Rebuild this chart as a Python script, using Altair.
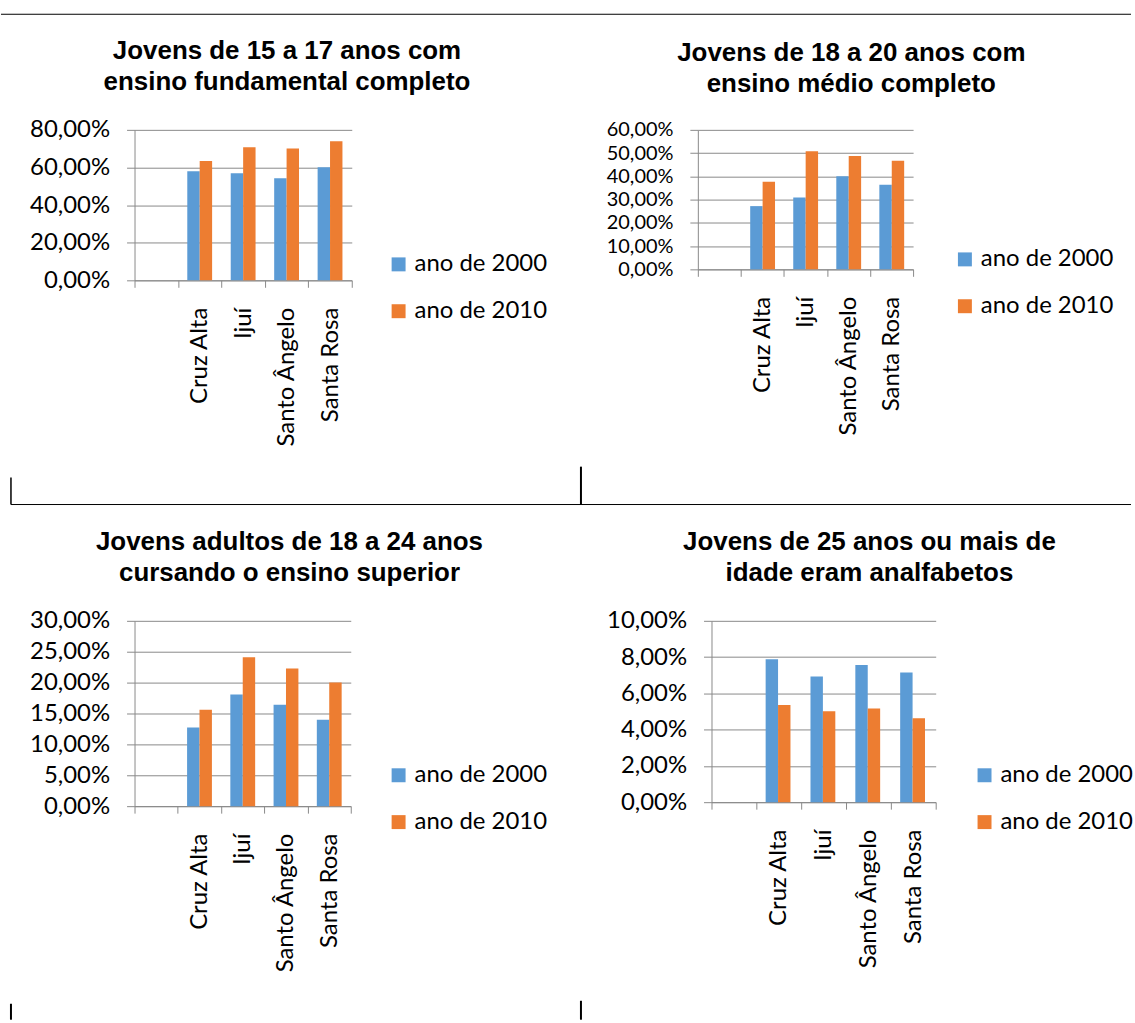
import altair as alt
import pandas as pd

# ---------------- data ----------------
cidades = ["Cruz Alta", "Ijuí", "Santo Ângelo", "Santa Rosa"]
categorias_eixo = [" ", "Cruz Alta", "Ijuí", "Santo Ângelo", "Santa Rosa"]
series = ["ano de 2000", "ano de 2010"]

fund_2000 = [0.580, 0.569, 0.543, 0.601]
fund_2010 = [0.634, 0.708, 0.701, 0.740]

medio_2000 = [0.272, 0.309, 0.400, 0.364]
medio_2010 = [0.377, 0.508, 0.487, 0.467]

sup_2000 = [0.1274, 0.1806, 0.1640, 0.1398]
sup_2010 = [0.1560, 0.2410, 0.2230, 0.2000]

analf_2000 = [0.0788, 0.0693, 0.0757, 0.0715]
analf_2010 = [0.0536, 0.0501, 0.0516, 0.0463]

titulo_fund = ["Jovens de 15 a 17 anos com", "ensino fundamental completo"]
titulo_medio = ["Jovens de 18 a 20 anos com", "ensino médio completo"]
titulo_sup = ["Jovens adultos de 18 a 24 anos", "cursando o ensino superior"]
titulo_analf = ["Jovens de 25 anos ou mais de", "idade eram analfabetos"]

ticks_fund = [0.0, 0.2, 0.4, 0.6, 0.8]
ticks_medio = [0.0, 0.1, 0.2, 0.3, 0.4, 0.5, 0.6]
ticks_sup = [0.0, 0.05, 0.10, 0.15, 0.20, 0.25, 0.30]
ticks_analf = [0.0, 0.02, 0.04, 0.06, 0.08, 0.10]

# ---------------- style ----------------
BLUE = "#5B9BD5"
ORANGE = "#ED7D31"
GRAY = "#8a8a8a"
FONT = "Lato"
TFONT = "Liberation Sans"
FS = 24


def panel(v2000, v2010, titulo, ticks, w, h, title_dx, leg_x, leg_y, yfs=FS):
    df = pd.DataFrame({
        "cidade": cidades + cidades,
        "serie": [series[0]] * len(cidades) + [series[1]] * len(cidades),
        "valor": list(v2000) + list(v2010),
    })
    return alt.Chart(df).mark_bar().encode(
        x=alt.X(
            "cidade:N",
            scale=alt.Scale(domain=categorias_eixo, paddingInner=0, paddingOuter=0),
            axis=alt.Axis(
                title=None, labelAngle=270, tickBand="extent", tickSize=7,
                labelPadding=20, domainColor=GRAY, tickColor=GRAY,
                labelFont=FONT, labelFontSize=FS, labelColor="black",
                grid=False, labelOverlap=False, labelLimit=300,
            ),
        ),
        xOffset=alt.XOffset(
            "serie:N",
            scale=alt.Scale(domain=series, paddingInner=0, paddingOuter=0.75),
        ),
        y=alt.Y(
            "valor:Q",
            scale=alt.Scale(domain=[ticks[0], ticks[-1]], nice=False),
            axis=alt.Axis(
                title=None, values=ticks,
                labelExpr="replace(format(datum.value, '.2%'), '.', ',')",
                tickSize=8, tickColor=GRAY, domainColor=GRAY, gridColor=GRAY,
                labelFont=FONT, labelFontSize=yfs, labelColor="black",
                labelPadding=17, labelOverlap=False, labelFlush=False,
            ),
        ),
        color=alt.Color(
            "serie:N",
            scale=alt.Scale(domain=series, range=[BLUE, ORANGE]),
            legend=alt.Legend(
                title=None, orient="none", legendX=leg_x, legendY=leg_y,
                symbolType="square", symbolSize=196, symbolStrokeWidth=0,
                labelFont=FONT, labelFontSize=FS, labelColor="black",
                rowPadding=23, labelOffset=4, padding=0,
            ),
        ),
    ).properties(
        width=w, height=h,
        title=alt.Title(
            text=titulo, font=TFONT, fontSize=26, fontWeight="bold",
            color="black", anchor="middle", frame="group", dx=title_dx,
            offset=23, lineHeight=31,
        ),
    )


tl = panel(fund_2000, fund_2010, titulo_fund, ticks_fund, 218, 151, 44, 253, 123)
tr = panel(medio_2000, medio_2010, titulo_medio, ticks_medio, 216, 140, 46, 256, 118, yfs=20)
bl = panel(sup_2000, sup_2010, titulo_sup, ticks_sup, 217, 186, 47, 253, 143)
br = panel(analf_2000, analf_2010, titulo_analf, ticks_analf, 225, 182, 46, 262, 143)

# ---------------- decorative table borders ----------------
S1 = (565.3 - 219) / 2          # spacing in the top row (TL, borders view, TR)
X0 = 134 + 218 + S1             # x of the borders view origin (reference pixels)
Y0 = 128                        # y of the borders view origin (reference pixels)

dummy = pd.DataFrame({"d": [0]})


def hline(x1, x2, y, sw):
    return alt.Chart(dummy).mark_rule(color="black", strokeWidth=sw).encode(
        x=alt.value(x1 - X0), x2=alt.value(x2 - X0), y=alt.value(y - Y0))


def vline(x, y1, y2, sw):
    return alt.Chart(dummy).mark_rule(color="black", strokeWidth=sw).encode(
        x=alt.value(x - X0), y=alt.value(y1 - Y0), y2=alt.value(y2 - Y0))


borders = alt.layer(
    hline(0, 1134, 12, 1),
    hline(10, 1134, 504, 1),
    vline(10, 477, 504, 1.5),
    vline(582, 466, 504, 2),
    vline(10, 1005, 1021, 2),
    vline(582, 1002, 1021, 2),
).properties(width=1, height=1)

row1 = alt.hconcat(tl, borders, tr, spacing=S1, bounds="flush").resolve_scale(color="independent")
row2 = alt.hconcat(bl, br, spacing=579 - 217, bounds="flush").resolve_scale(color="independent")

chart = alt.vconcat(row1, row2, spacing=492.7, bounds="flush").resolve_scale(
    color="independent"
).properties(
    padding={"left": 0, "top": 11.5, "right": 0, "bottom": 0},
    background="white",
).configure_view(stroke="transparent")

chart.save("out.html", embed_options={"renderer": "svg", "actions": False})
